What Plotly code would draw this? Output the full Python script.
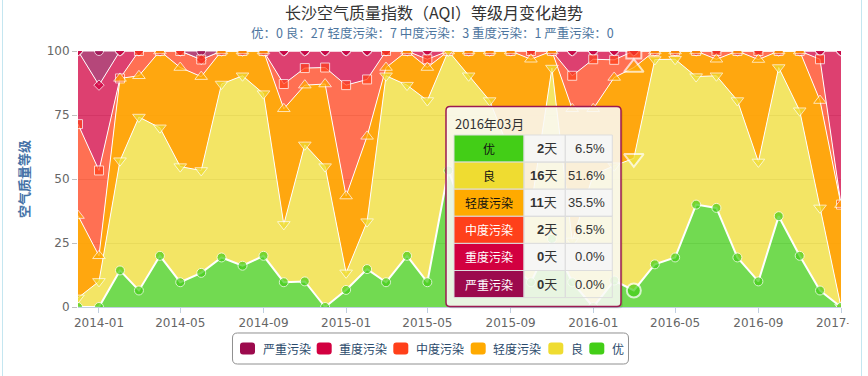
import plotly.graph_objects as go
import numpy as np

# ---------------- data (days per month) ----------------
MONTHS = ['2013-12', '2014-01', '2014-02', '2014-03', '2014-04', '2014-05', '2014-06', '2014-07',
          '2014-08', '2014-09', '2014-10', '2014-11', '2014-12', '2015-01', '2015-02', '2015-03',
          '2015-04', '2015-05', '2015-06', '2015-07', '2015-08', '2015-09', '2015-10', '2015-11',
          '2015-12', '2016-01', '2016-02', '2016-03', '2016-04', '2016-05', '2016-06', '2016-07',
          '2016-08', '2016-09', '2016-10', '2016-11', '2016-12', '2017-01']

CATS = ['优', '良', '轻度污染', '中度污染', '重度污染', '严重污染']

you = [0, 0, 4, 2, 6, 3, 4, 6, 5, 6, 3, 3, 0, 2, 4, 3, 6, 3, 16, 10, 6, 5, 3, 8, 3, 0, 3, 2,
       5, 6, 12, 12, 6, 3, 11, 6, 2, 0]
liang = [1, 3, 12, 21, 15, 14, 12, 21, 23, 19, 7, 16, 17, 2, 5, 25, 20, 22, 14, 18, 19, 13, 9, 20,
         5, 16, 13, 16, 24, 24, 15, 16, 19, 14, 18, 17, 10, 0]
qingdu = [9, 3, 9, 5, 9, 12, 11, 4, 3, 5, 14, 7, 10, 9, 9, 1, 4, 4, 0, 3, 6, 12, 18, 2, 16, 8, 10,
          11, 1, 1, 3, 2, 6, 12, 2, 7, 13, 2]
zhongdu = [10, 10, 0, 3, 0, 2, 2, 0, 0, 0, 3, 2, 2, 13, 6, 2, 0, 1, 0, 0, 0, 0, 1, 0, 4, 6, 2, 2,
           0, 0, 0, 1, 0, 1, 0, 0, 5, 0]
zhongdu_heavy = [8, 10, 3, 0, 0, 0, 0, 0, 0, 0, 4, 2, 2, 4, 3, 0, 0, 1, 0, 0, 0, 0, 0, 0, 3, 1, 1,
                 0, 0, 0, 0, 0, 0, 0, 0, 0, 1, 3]
yanzhong = [0, 4, 0, 0, 0, 0, 1, 0, 0, 0, 0, 0, 0, 0, 0, 0, 0, 0, 0, 0, 0, 0, 0, 0, 0, 0, 0, 0,
            0, 0, 0, 0, 0, 0, 0, 0, 0, 0]

SERIES = [you, liang, qingdu, zhongdu, zhongdu_heavy, yanzhong]
BASE_COLORS = ['#43ce17', '#efdc31', '#ffaa00', '#ff401a', '#d20040', '#9c0a4d']
FILL_COLORS = ['rgba(67,206,23,0.75)', 'rgba(239,220,49,0.75)', 'rgba(255,162,0,0.94)',
               'rgba(255,64,26,0.75)', 'rgba(210,0,64,0.75)', 'rgba(156,10,77,0.75)']
SYMBOLS = ['circle', 'triangle-down', 'triangle-up', 'square', 'diamond', 'circle']
SIZES = [9, 11, 11, 9, 8, 9]
HOVER_SIZES = [14, 17, 17, 15, 8, 9]
HOVER_MONTH = '2016-03'

TITLE = '长沙空气质量指数（AQI）等级月变化趋势'
SUBTITLE = '优：0 良：27 轻度污染：7 中度污染：3 重度污染：1 严重污染：0'
Y_TITLE = '空气质量等级'

FONT = 'Noto Sans CJK SC, DejaVu Sans, sans-serif'
NUMFONT = 'DejaVu Sans, Noto Sans CJK SC, sans-serif'
TIPFONT = 'Liberation Sans, Noto Sans CJK SC, sans-serif'

# ---------------- geometry helpers (pixels -> paper) ----------------
WIDTH, HEIGHT = 868, 376
L, R, T, B = 78, 27, 51, 69
PW, PH = WIDTH - L - R, HEIGHT - T - B


def px(x):
    return (x - L) / PW


def py(y):
    return (T + PH - y) / PH


x_dates = [m + '-01' for m in MONTHS]
data = np.array(SERIES, dtype=float)
totals = data.sum(axis=0)
pct = data / totals * 100
cum = np.cumsum(pct, axis=0)
hidx = MONTHS.index(HOVER_MONTH)

fig = go.Figure()

# stacked areas (bottom: 优 ... top: 严重污染)
for k, name in enumerate(CATS):
    fig.add_trace(go.Scatter(
        x=x_dates, y=SERIES[k], name=name, stackgroup='aqi',
        groupnorm='percent' if k == 0 else None,
        mode='lines', line=dict(color='white', width=2 if k == 0 else 1),
        fillcolor=FILL_COLORS[k], showlegend=False, hoverinfo='skip'))

# markers (drawn 严重 first so 优 is on top)
for k in reversed(range(len(CATS))):
    sizes = [SIZES[k]] * len(MONTHS)
    lw = [1] * len(MONTHS)
    sizes[hidx] = HOVER_SIZES[k]
    lw[hidx] = 2 if HOVER_SIZES[k] > SIZES[k] else 1
    fig.add_trace(go.Scatter(
        x=x_dates, y=cum[k], mode='markers', showlegend=False, hoverinfo='skip',
        marker=dict(symbol=SYMBOLS[k], size=sizes, color=BASE_COLORS[k],
                    line=dict(color='white', width=lw))))

shapes = []
annotations = []


def rrect_path(x0, y0, x1, y1, r):
    pts = [('M', [(x0 + r, y0)]), ('L', [(x1 - r, y0)]), ('Q', [(x1, y0), (x1, y0 + r)]),
           ('L', [(x1, y1 - r)]), ('Q', [(x1, y1), (x1 - r, y1)]), ('L', [(x0 + r, y1)]),
           ('Q', [(x0, y1), (x0, y1 - r)]), ('L', [(x0, y0 + r)]), ('Q', [(x0, y0), (x0 + r, y0)])]
    s = ''
    for cmd, ps in pts:
        s += cmd + ' ' + ' '.join(f'{px(a):.5f},{py(b):.5f}' for a, b in ps) + ' '
    return s + 'Z'


# clip of the last x tick label at the container edge (as in the reference)
shapes.append(dict(type='rect', xref='paper', yref='paper', x0=px(848.5), x1=px(868), y0=py(330),
                   y1=py(310), fillcolor='white', line=dict(width=0), layer='above'))
# container edge lines
for ex in (2.5, 861.5):
    shapes.append(dict(type='line', xref='paper', yref='paper', x0=px(ex), x1=px(ex),
                       y0=py(0), y1=py(HEIGHT), line=dict(color='#c4e6f0', width=1)))

# tooltip
tx0, ty0, tx1, ty1 = 446, 106.5, 621, 306.5
shapes.append(dict(type='path', xref='paper', yref='paper', path=rrect_path(tx0 + 2, ty0 + 2, tx1 + 2, ty1 + 2, 4),
                   fillcolor='rgba(0,0,0,0.08)', line=dict(width=0)))
shapes.append(dict(type='path', xref='paper', yref='paper', path=rrect_path(tx0, ty0, tx1, ty1, 4),
                   fillcolor='rgba(253,253,250,0.86)', line=dict(color='#9c1a52', width=1.5)))
annotations.append(dict(x=px(453), y=py(123), xref='paper', yref='paper', xanchor='left', yanchor='middle',
                        text=HOVER_MONTH.replace('-', '年') + '月', showarrow=False,
                        font=dict(family=FONT, size=13, color='#333333')))

cols = [454, 524, 565.3, 612.3]
row_top, row_h = 135, 27.1
text_colors = ['#111111', '#111111', '#111111', '#ffffff', '#ffffff', '#ffffff']
for k, name in enumerate(CATS):
    r0 = row_top + k * row_h
    r1 = r0 + row_h
    shapes.append(dict(type='rect', xref='paper', yref='paper', x0=px(cols[0]), x1=px(cols[1]),
                       y0=py(r1), y1=py(r0), fillcolor=BASE_COLORS[k], line=dict(color='#dddddd', width=1)))
    cell_bg = 'rgba(246,246,246,0.95)' if k % 2 == 0 else 'rgba(255,255,255,0)'
    for c in (1, 2):
        shapes.append(dict(type='rect', xref='paper', yref='paper', x0=px(cols[c]), x1=px(cols[c + 1]),
                           y0=py(r1), y1=py(r0), fillcolor=cell_bg, line=dict(color='#dddddd', width=1)))
    yc = py((r0 + r1) / 2)
    annotations.append(dict(x=px((cols[0] + cols[1]) / 2), y=yc, xref='paper', yref='paper',
                            text=name, showarrow=False, xanchor='center', yanchor='middle',
                            font=dict(family=FONT, size=12, color=text_colors[k])))
    d = int(SERIES[k][hidx])
    annotations.append(dict(x=px(cols[2] - 6), y=yc, xref='paper', yref='paper',
                            text=f'<b>{d}</b>天', showarrow=False, xanchor='right', yanchor='middle',
                            font=dict(family=TIPFONT, size=13, color='#333333')))
    annotations.append(dict(x=px(cols[3] - 5), y=yc, xref='paper', yref='paper',
                            text=f'{pct[k][hidx]:.1f}%', showarrow=False, xanchor='right', yanchor='middle',
                            font=dict(family=TIPFONT, size=13, color='#333333')))

# legend (drawn as a box with swatches, order 严重污染 ... 优)
shapes.append(dict(type='path', xref='paper', yref='paper', path=rrect_path(232.5, 333, 628.5, 364, 5),
                   fillcolor='white', line=dict(color='#909090', width=1)))
sw_left = [240, 316.7, 393.3, 470.7, 548.3, 589.3]
leg_order = list(reversed(range(len(CATS))))
for j, k in enumerate(leg_order):
    x0 = sw_left[j]
    shapes.append(dict(type='path', xref='paper', yref='paper', path=rrect_path(x0, 342.5, x0 + 15, 354.5, 3),
                       fillcolor=BASE_COLORS[k], line=dict(width=0)))
    annotations.append(dict(x=px(x0 + 20.5), y=py(348.5), xref='paper', yref='paper', text=CATS[k],
                            showarrow=False, xanchor='left', yanchor='middle',
                            font=dict(family=FONT, size=12, color='#2b4a6b')))

# titles
annotations.append(dict(x=px(434), y=py(12), xref='paper', yref='paper', text=TITLE, showarrow=False,
                        xanchor='center', yanchor='middle', font=dict(family=FONT, size=16, color='#333333')))
annotations.append(dict(x=px(432), y=py(32.5), xref='paper', yref='paper', text=SUBTITLE, showarrow=False,
                        xanchor='center', yanchor='middle', font=dict(family=FONT, size=12.5, color='#4d759e')))
annotations.append(dict(x=px(23), y=py(179), xref='paper', yref='paper', text='<b>' + Y_TITLE + '</b>',
                        showarrow=False, textangle=-90, xanchor='center', yanchor='middle',
                        font=dict(family=FONT, size=13, color='#4572a7')))

fig.update_layout(
    width=WIDTH, height=HEIGHT, margin=dict(l=L, r=R, t=T, b=B, autoexpand=False),
    plot_bgcolor='white', paper_bgcolor='white', showlegend=False,
    shapes=shapes, annotations=annotations, hovermode=False,
    xaxis=dict(type='date', range=[x_dates[0], x_dates[-1]], tick0='2014-01-01', dtick='M4',
               tickformat='%Y-%m', ticks='outside', ticklen=5, tickcolor='#c0d0e0',
               showline=True, linecolor='#c0d0e0', linewidth=1, showgrid=False, zeroline=False,
               automargin=False, tickfont=dict(family=NUMFONT, size=12, color='#666666')),
    yaxis=dict(range=[0, 100], tickvals=[0, 25, 50, 75, 100], ticks='outside', ticklen=5,
               tickcolor='#c0c0c0', showgrid=True, gridcolor='#d8d8d8', showline=False, zeroline=False,
               automargin=False, tickfont=dict(family=NUMFONT, size=12, color='#666666')),
)

fig.write_html('out.html', config={'displayModeBar': False},
               post_script="document.body.style.margin='0px';document.body.style.overflow='hidden';")
